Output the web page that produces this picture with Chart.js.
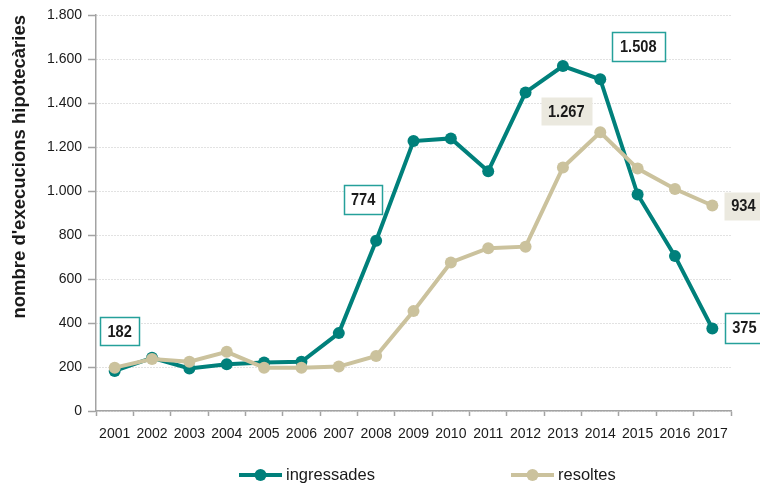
<!DOCTYPE html>
<html>
<head>
<meta charset="utf-8">
<script src="https://cdn.jsdelivr.net/npm/chart.js@4.4.1/dist/chart.umd.min.js"></script>
<style>
    html, body { margin: 0; padding: 0; background: #ffffff; }
    #wrap { width: 760px; height: 486px; }
</style>
</head>
<body>
<div id="wrap"><canvas id="execChart" width="760" height="486"></canvas></div>
<script>

// DATA

const years = ['2001', '2002', '2003', '2004', '2005', '2006', '2007', '2008', '2009',
    '2010', '2011', '2012', '2013', '2014', '2015', '2016', '2017'];

const ingressades = [182, 242, 193, 212, 221, 224, 354, 774, 1227, 1239, 1090, 1448, 1568, 1508, 984, 704, 375];

const resoltes = [197, 236, 224, 269, 197, 197, 202, 250, 454, 675, 740, 747, 1107, 1267, 1102, 1009, 934];

const yTicks = [0, 200, 400, 600, 800, 1000, 1200, 1400, 1600, 1800];

// which points carry a value box
const calloutPoints = [
    { series: 0, year: '2001' },
    { series: 0, year: '2008' },
    { series: 0, year: '2014' },
    { series: 1, year: '2014' },
    { series: 1, year: '2017' },
    { series: 0, year: '2017' }
];


// STYLE

const TEAL = '#00807b';
const BEIGE = '#cbc29d';
const TEXT = '#1a1a1a';
const AXIS = '#a3a3a3';

// box offsets from the point, in pixels
const calloutStyle = [
    { dx: 5, dy: -40, w: 39, h: 28, fill: '#ffffff', stroke: '#25a09a' },
    { dx: -13, dy: -41, w: 38, h: 29, fill: '#ffffff', stroke: '#25a09a' },
    { dx: 38, dy: -33, w: 53, h: 29, fill: '#ffffff', stroke: '#25a09a' },
    { dx: -34, dy: -21, w: 51, h: 28, fill: '#ebe9df', stroke: null },
    { dx: 31, dy: 0, w: 39, h: 28, fill: '#ebe9df', stroke: null },
    { dx: 32, dy: -1, w: 39, h: 30, fill: '#ffffff', stroke: '#25a09a' }
];

const fmt = v => String(v).replace(/\B(?=(\d{3})+(?!\d))/g, '.');


// CALLOUT BOXES

const calloutPlugin = {
    id: 'callouts',
    afterDatasetsDraw(chart) {
        const ctx = chart.ctx;
        ctx.save();
        calloutPoints.forEach((c, i) => {
            const st = calloutStyle[i];
            const idx = years.indexOf(c.year);
            const pt = chart.getDatasetMeta(c.series).data[idx];
            const value = chart.data.datasets[c.series].data[idx];
            const cx = pt.x + st.dx;
            const cy = pt.y + st.dy;
            const x0 = Math.round(cx - st.w / 2) + 0.5;
            const y0 = Math.round(cy - st.h / 2) + 0.5;

            ctx.fillStyle = st.fill;
            ctx.fillRect(x0, y0, st.w, st.h);
            if (st.stroke) {
                ctx.strokeStyle = st.stroke;
                ctx.lineWidth = 1.5;
                ctx.strokeRect(x0, y0, st.w, st.h);
            }
            // condensed bold text, narrowed horizontally
            ctx.save();
            ctx.translate(cx, cy + 1);
            ctx.scale(0.86, 1);
            ctx.fillStyle = TEXT;
            ctx.font = 'bold 17px "Liberation Sans", Arial, sans-serif';
            ctx.textAlign = 'center';
            ctx.textBaseline = 'middle';
            ctx.fillText(fmt(value), 0, 0);
            ctx.restore();
        });
        ctx.restore();
    }
};


// LEGEND

const legendPlugin = {
    id: 'lineLegend',
    afterDraw(chart) {
        const ctx = chart.ctx;
        const items = [
            { text: 'ingressades', color: TEAL, x: 239 },
            { text: 'resoltes', color: BEIGE, x: 511 }
        ];
        const y = 475;
        ctx.save();
        items.forEach(it => {
            ctx.strokeStyle = it.color;
            ctx.lineWidth = 4;
            ctx.beginPath();
            ctx.moveTo(it.x, y);
            ctx.lineTo(it.x + 43, y);
            ctx.stroke();
            ctx.fillStyle = it.color;
            ctx.beginPath();
            ctx.arc(it.x + 21.5, y, 6, 0, Math.PI * 2);
            ctx.fill();
            ctx.fillStyle = TEXT;
            ctx.font = '16.5px "Liberation Sans", Arial, sans-serif';
            ctx.textAlign = 'left';
            ctx.textBaseline = 'middle';
            ctx.fillText(it.text, it.x + 47, y);
        });
        ctx.restore();
    }
};


// CHART.JS

const ctx = document.getElementById('execChart');

new Chart(ctx, {
    type: 'line',

    data: {
        labels: years,
        datasets: [
            {
                label: 'ingressades',
                data: ingressades,
                borderColor: TEAL,
                backgroundColor: TEAL,
                pointBackgroundColor: TEAL,
                borderWidth: 4,
                pointRadius: 6,
                pointBorderWidth: 0,
                order: 1
            },
            {
                label: 'resoltes',
                data: resoltes,
                borderColor: BEIGE,
                backgroundColor: BEIGE,
                pointBackgroundColor: BEIGE,
                borderWidth: 4,
                pointRadius: 6,
                pointBorderWidth: 0,
                order: 0
            }
        ]
    },

    options: {
        responsive: false,
        animation: false,
        layout: {
            padding: { left: 0, right: 29, top: 15, bottom: 45 }
        },
        plugins: {
            legend: { display: false },
            tooltip: { enabled: false }
        },
        scales: {
            x: {
                offset: true,
                afterFit: scale => { scale.height = 30; },
                grid: {
                    offset: true,
                    drawOnChartArea: false,
                    drawTicks: true,
                    tickLength: 5,
                    tickColor: AXIS,
                    tickWidth: 1.5
                },
                border: { color: AXIS, width: 1.5 },
                ticks: {
                    color: TEXT,
                    padding: 10,
                    maxRotation: 0,
                    autoSkip: false,
                    font: { family: '"Liberation Sans", Arial, sans-serif', size: 14 }
                }
            },
            y: {
                min: 0,
                max: 1800,
                afterFit: scale => { scale.width = 96; },
                afterBuildTicks: scale => {
                    scale.ticks = yTicks.map(v => ({ value: v }));
                },
                grid: {
                    color: '#c4c4c4',
                    lineWidth: 1,
                    drawTicks: true,
                    tickLength: 8,
                    tickColor: AXIS,
                    tickWidth: 1.5,
                    tickBorderDash: []
                },
                border: { color: AXIS, width: 1.5, dash: [1, 2] },
                ticks: {
                    color: TEXT,
                    padding: 6,
                    callback: v => fmt(v),
                    font: { family: '"Liberation Sans", Arial, sans-serif', size: 14 }
                },
                title: {
                    display: true,
                    text: "nombre d'execucions hipotecàries",
                    align: 'end',
                    color: TEXT,
                    padding: { top: 9, bottom: 4 },
                    font: { family: '"Liberation Sans", Arial, sans-serif', size: 18.5, weight: 'bold' }
                }
            }
        }
    },

    plugins: [calloutPlugin, legendPlugin]
});

</script>
</body>
</html>
